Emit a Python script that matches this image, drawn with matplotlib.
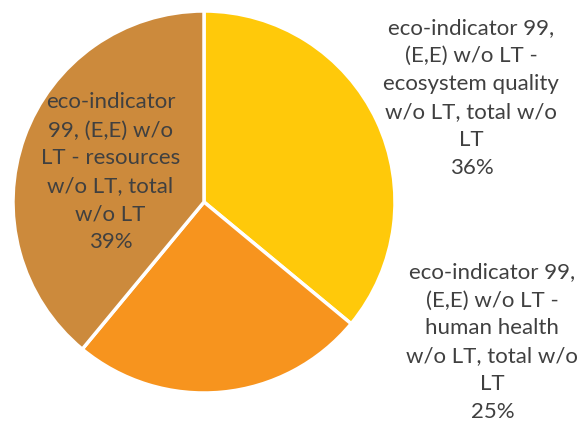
import matplotlib.pyplot as plt

# eco-indicator 99 shares
labels = [
    "eco-indicator 99,\n(E,E) w/o LT -\necosystem quality\nw/o LT, total w/o\nLT",
    "eco-indicator 99,\n(E,E) w/o LT -\nhuman health\nw/o LT, total w/o\nLT",
    "eco-indicator\n99, (E,E) w/o\nLT - resources\nw/o LT, total\nw/o LT",
]
shares = [36, 25, 39]
colors = ["#FFC90A", "#F7941E", "#CC8A3C"]
label_pos = [(1.40, 0.55), (1.51, -0.73), (-0.49, 0.16)]

fig = plt.figure(figsize=(5.78, 4.27), dpi=100)
r_px = 191
cx, cy = 204, 203
ax = fig.add_axes([(cx - r_px) / 578, (427 - cy - r_px) / 427, 2 * r_px / 578, 2 * r_px / 427])

wedges, _ = ax.pie(shares, colors=colors, startangle=90, counterclock=False,
                   wedgeprops=dict(edgecolor="white", linewidth=2.5))
ax.set_xlim(-1, 1)
ax.set_ylim(-1, 1)
ax.set_aspect("equal")

for lab, val, (x, y) in zip(labels, shares, label_pos):
    ax.text(x, y, f"{lab}\n{val}%", ha="center", va="center", fontsize=16,
            family=["Lato", "DejaVu Sans"], color="#404040", linespacing=1.5,
            clip_on=False)

fig.savefig("out.png", dpi=100)
